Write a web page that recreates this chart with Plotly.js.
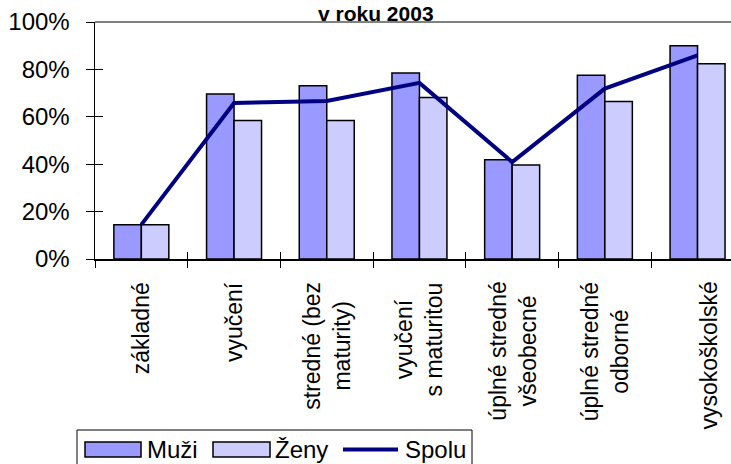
<!DOCTYPE html>
<html><head><meta charset="utf-8">
<script src="https://cdn.plot.ly/plotly-3.0.1.min.js"></script>
<style>html,body{margin:0;padding:0;background:#fff;}#chart{width:731px;height:464px;}</style>
</head><body><div id="chart"></div>
<script>
const categories = ['základné','vyučení','stredné (bez<br>maturity)','vyučení<br>s maturitou','úplné stredné<br>všeobecné','úplné stredné<br>odborné','vysokoškolské'];
const muzi  = [14.5, 69.6, 73.1, 78.5, 41.9, 77.5, 90.0];
const zeny  = [14.5, 58.4, 58.4, 68.1, 39.7, 66.5, 82.4];
const spolu = [14.5, 65.8, 66.7, 74.3, 40.9, 71.9, 85.9];
const seriesNames = ['Muži','Ženy','Spolu'];
const yTickVals = [0,20,40,60,80,100];
const titleText = 'v roku 2003';

const W=731,H=464,L=95,R=0,T=22,B=205;
const pw=W-L-R, ph=H-T-B;
const px = x => (x-L)/pw;
const py = y => (H-B-y)/ph;
const FONT='"Liberation Sans", Arial, sans-serif';
const colM='#9999ff', colZ='#ccccff', colS='#000080';
const xr=[-0.5, -0.5 + pw/92.7];

const traces = [
  {type:'bar', name:seriesNames[0], x:categories, y:muzi, marker:{color:colM, line:{color:'#000', width:1.5}}, showlegend:false, hoverinfo:'none'},
  {type:'bar', name:seriesNames[1], x:categories, y:zeny, marker:{color:colZ, line:{color:'#000', width:1.5}}, showlegend:false, hoverinfo:'none'},
  {type:'scatter', mode:'lines', name:seriesNames[2], x:categories, y:spolu, xaxis:'x2', yaxis:'y2', line:{color:colS, width:4}, showlegend:false, hoverinfo:'none'}
];

const annotations = categories.map((c,i)=>({
  x:i, xref:'x', y:0, yref:'y', yanchor:'top', xanchor:'center', yshift:-21,
  xshift: (i === categories.length-1) ? 11 : 0,
  text:c, textangle:-90, align:'center', showarrow:false,
  font:{family:FONT, size:23, color:'#000'}
}));
annotations.push({
  x:px(376), xref:'paper', y:py(0.5), yref:'paper', xanchor:'center', yanchor:'top', borderpad:0,
  text:'<b>'+titleText+'</b>', showarrow:false, font:{family:FONT, size:21, color:'#000'}
});

const shapes = [
  {type:'line', xref:'paper', yref:'paper', x0:0, x1:1.1, y0:1, y1:1, line:{color:'#808080', width:2}},
  {type:'rect', xref:'paper', yref:'paper', x0:px(77), x1:px(472), y0:py(430), y1:py(475), line:{color:'#000', width:1}, fillcolor:'rgba(0,0,0,0)'},
  {type:'rect', xref:'paper', yref:'paper', x0:px(85), x1:px(141), y0:py(442), y1:py(457), line:{color:'#000', width:1.5}, fillcolor:colM},
  {type:'rect', xref:'paper', yref:'paper', x0:px(213), x1:px(270), y0:py(442), y1:py(457), line:{color:'#000', width:1.5}, fillcolor:colZ},
  {type:'line', xref:'paper', yref:'paper', x0:px(343), x1:px(398), y0:py(449.5), y1:py(449.5), line:{color:colS, width:4}}
];
[[147,0],[275,1],[405,2]].forEach(([xx,k])=>{
  annotations.push({x:px(xx), xref:'paper', y:py(449), yref:'paper', xanchor:'left', yanchor:'middle',
    text:seriesNames[k], showarrow:false, xshift:-2, font:{family:FONT, size:24, color:'#000'}});
});

const layout = {
  width:W, height:H, margin:{l:L, r:R, t:T, b:B, pad:0},
  paper_bgcolor:'#fff', plot_bgcolor:'rgba(0,0,0,0)',
  font:{family:FONT, color:'#000'},
  barmode:'group', bargap:0.407, bargroupgap:0,
  showlegend:false,
  xaxis:{type:'category', range:xr, tickson:'boundaries', ticks:'outside', ticklen:7, tickcolor:'#000', tickwidth:1,
    showline:true, linecolor:'#000', linewidth:1.5, showticklabels:false, showgrid:false, zeroline:false, fixedrange:true},
  xaxis2:{type:'category', overlaying:'x', anchor:'y2', range:xr, tickson:'boundaries', ticks:'inside', ticklen:7, tickcolor:'#000', tickwidth:1,
    showline:false, showticklabels:false, showgrid:false, zeroline:false, fixedrange:true},
  yaxis:{range:[0,100], tickmode:'array', tickvals:yTickVals, ticktext:yTickVals.map(v=>v+'%'), ticks:'outside', ticklen:8, tickcolor:'#000', tickwidth:1,
    showline:true, linecolor:'#000', linewidth:1.5, showgrid:false, zeroline:false, ticklabelstandoff:11,
    tickfont:{family:FONT, size:24, color:'#000'}, fixedrange:true},
  yaxis2:{range:[0,100], overlaying:'y', anchor:'x2', side:'left', tickmode:'array', tickvals:yTickVals, ticks:'inside', ticklen:8, tickcolor:'#000', tickwidth:1,
    showline:false, showticklabels:false, showgrid:false, zeroline:false, fixedrange:true},
  shapes:shapes, annotations:annotations
};
Plotly.newPlot('chart', traces, layout, {staticPlot:true, displayModeBar:false});
</script></body></html>
